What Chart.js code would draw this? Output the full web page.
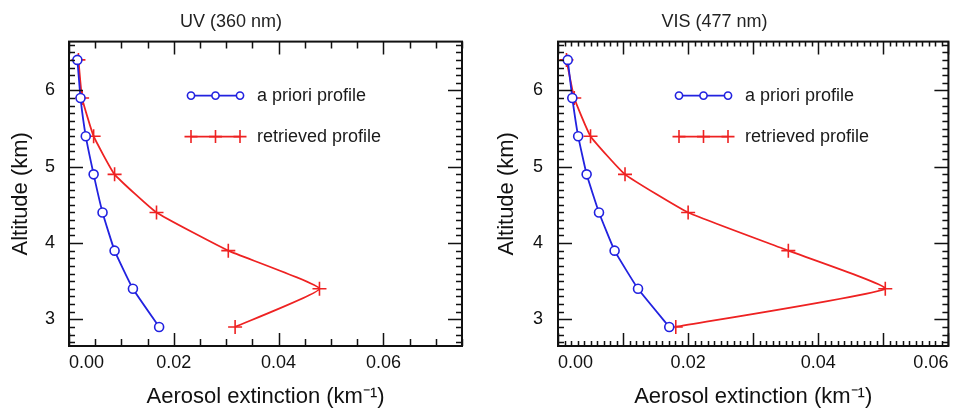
<!DOCTYPE html>
<html>
<head>
<meta charset="utf-8">
<script src="https://cdn.jsdelivr.net/npm/chart.js@4.4.1/dist/chart.umd.min.js"></script>
<style>
  body { margin: 0; background: #fff; }
  #wrap { position: relative; width: 957px; height: 411px; }
  #uvBox { position: absolute; left: 0; top: 0; width: 480px; height: 411px; }
  #visBox { position: absolute; left: 480px; top: 0; width: 477px; height: 411px; }
</style>
</head>
<body>
<div id="wrap">
  <div id="uvBox"><canvas id="uvChart" width="480" height="411"></canvas></div>
  <div id="visBox"><canvas id="visChart" width="477" height="411"></canvas></div>
</div>
<script>
// Aerosol extinction profiles (km^-1 against km)

var altitudes = [6.4, 5.9, 5.4, 4.9, 4.4, 3.9, 3.4, 2.9];

var uvApriori = [0.0016, 0.0022, 0.0032, 0.0047, 0.0064, 0.0087, 0.0122, 0.0172];
var uvRetrieved = [0.0018, 0.0025, 0.0047, 0.0087, 0.0167, 0.0304, 0.0478, 0.0317];

var visApriori = [0.0015, 0.0022, 0.0031, 0.0044, 0.0063, 0.0087, 0.0123, 0.0171];
var visRetrieved = [0.0013, 0.0025, 0.0050, 0.0103, 0.0200, 0.0354, 0.0503, 0.0181];

var seriesNames = ["a priori profile", "retrieved profile"];
var panelTitles = ["UV (360 nm)", "VIS (477 nm)"];
var xTitle = "Aerosol extinction (km\u207B\u00B9)";
var yTitle = "Altitude (km)";

var FONT = "'Liberation Sans', Arial, Helvetica, sans-serif";
var BLUE = "#2222e0";
var RED = "#ee2222";

//pair up x values with the altitudes
function toPoints(values) {
    var pts = [];
    for (var i = 0; i < values.length; i++) {
        pts.push({ x: values[i], y: altitudes[i] });
    }
    return pts;
}

//box round the plot plus inward ticks on all four sides
var frameTicks = {
    id: "frameTicks",
    afterDatasetsDraw: function (chart, args, opts) {
        var ctx = chart.ctx;
        var a = chart.chartArea;
        var xs = chart.scales.x;
        var ys = chart.scales.y;
        ctx.save();
        ctx.strokeStyle = "#111";
        ctx.lineWidth = 1.5;
        ctx.beginPath();
        var i, p, len;
        for (i = Math.ceil(xs.min / opts.xStep - 1e-6); i * opts.xStep <= xs.max + 1e-9; i++) {
            p = Math.round(xs.getPixelForValue(i * opts.xStep)) + 0.5;
            len = (i % opts.xEvery === 0) ? 13 : opts.xMinorLen;
            ctx.moveTo(p, a.bottom); ctx.lineTo(p, a.bottom - len);
            ctx.moveTo(p, a.top); ctx.lineTo(p, a.top + len);
        }
        for (i = Math.ceil(ys.min / opts.yStep - 1e-6); i * opts.yStep <= ys.max + 1e-9; i++) {
            p = Math.round(ys.getPixelForValue(i * opts.yStep)) + 0.5;
            len = (i % opts.yEvery === 0) ? 14 : 6;
            ctx.moveTo(a.left, p); ctx.lineTo(a.left + len, p);
            ctx.moveTo(a.right, p); ctx.lineTo(a.right - len, p);
        }
        ctx.stroke();
        ctx.lineWidth = 2;
        ctx.strokeRect(a.left, a.top, a.right - a.left, a.bottom - a.top);
        ctx.restore();
    }
};

//legend inside the plot: a short line with three markers, then the name
var innerLegend = {
    id: "innerLegend",
    afterDraw: function (chart, args, opts) {
        var ctx = chart.ctx;
        var a = chart.chartArea;
        var x0 = a.left + opts.dx;
        var lineLen = 49;
        ctx.save();
        chart.data.datasets.forEach(function (ds, k) {
            var y = a.top + opts.rows[k];
            ctx.strokeStyle = ds.borderColor;
            ctx.lineWidth = 1.6;
            ctx.beginPath();
            ctx.moveTo(x0, y);
            ctx.lineTo(x0 + lineLen, y);
            ctx.stroke();
            for (var m = 0; m < 3; m++) {
                var mx = x0 + m * lineLen / 2;
                ctx.beginPath();
                if (ds.pointStyle === "cross") {
                    ctx.moveTo(mx - 6.5, y); ctx.lineTo(mx + 6.5, y);
                    ctx.moveTo(mx, y - 6.5); ctx.lineTo(mx, y + 6.5);
                    ctx.stroke();
                } else {
                    ctx.arc(mx, y, 3.6, 0, Math.PI * 2);
                    ctx.fillStyle = "#fff";
                    ctx.fill();
                    ctx.stroke();
                }
            }
            ctx.fillStyle = "#1a1a1a";
            ctx.font = "18px " + FONT;
            ctx.textBaseline = "middle";
            ctx.textAlign = "left";
            ctx.fillText(ds.label, x0 + lineLen + 17, y);
        });
        ctx.restore();
    }
};

function drawPanel(canvasId, title, apriori, retrieved, xMax, xStep, xEvery, xMinorLen, yAxisWidth, yTitlePad, yLabelPad, rightPad, legendDx) {
    return new Chart(canvasId, {
        type: "line",
        data: {
            datasets: [{
                label: seriesNames[0],
                data: toPoints(apriori),
                borderColor: BLUE,
                borderWidth: 1.8,
                pointStyle: "circle",
                pointRadius: 4.5,
                pointBorderWidth: 1.6,
                pointBackgroundColor: "#fff",
                pointBorderColor: BLUE,
                tension: 0.12,
                fill: false
            }, {
                label: seriesNames[1],
                data: toPoints(retrieved),
                borderColor: RED,
                borderWidth: 1.8,
                pointStyle: "cross",
                pointRadius: 7,
                pointBorderWidth: 1.6,
                pointBorderColor: RED,
                tension: 0.12,
                fill: false
            }]
        },
        options: {
            responsive: false,
            animation: false,
            layout: { padding: { left: 0, right: rightPad, top: 0, bottom: 0 } },
            plugins: {
                legend: { display: false },
                tooltip: { enabled: false },
                title: {
                    display: true,
                    text: title,
                    color: "#222",
                    font: { family: FONT, size: 18, weight: "normal" },
                    padding: { top: 11, bottom: 9 }
                },
                frameTicks: { xStep: xStep, xEvery: xEvery, xMinorLen: xMinorLen, yStep: 0.1, yEvery: 10 },
                innerLegend: { dx: legendDx, rows: [54, 95] }
            },
            scales: {
                x: {
                    type: "linear",
                    min: 0,
                    max: xMax,
                    grid: { display: false, drawTicks: false },
                    border: { display: false },
                    afterFit: function (s) { s.height = 65; },
                    ticks: {
                        stepSize: 0.02,
                        includeBounds: true,
                        autoSkip: false,
                        align: "inner",
                        maxRotation: 0,
                        padding: 6,
                        color: "#111",
                        font: { family: FONT, size: 18 },
                        callback: function (v) {
                            var r = Math.round(v / 0.02);
                            if (Math.abs(v - r * 0.02) > 1e-9) return "";
                            return (r * 0.02).toFixed(2);
                        }
                    },
                    title: {
                        display: true,
                        text: xTitle,
                        color: "#111",
                        font: { family: FONT, size: 22 },
                        padding: { top: 0, bottom: 1 }
                    }
                },
                y: {
                    type: "linear",
                    min: 2.65,
                    max: 6.64,
                    grid: { display: false, drawTicks: false },
                    border: { display: false },
                    afterFit: function (s) { s.width = yAxisWidth; },
                    ticks: {
                        stepSize: 1,
                        includeBounds: false,
                        padding: yLabelPad,
                        color: "#111",
                        font: { family: FONT, size: 18 }
                    },
                    title: {
                        display: true,
                        text: yTitle,
                        color: "#111",
                        font: { family: FONT, size: 22 },
                        padding: { top: yTitlePad, bottom: 0 }
                    }
                }
            }
        },
        plugins: [frameTicks, innerLegend]
    });
}

var uvChart = drawPanel("uvChart", panelTitles[0], uvApriori, uvRetrieved, 0.075, 0.005, 4, 7, 69, 8, 14, 18, 122);
var visChart = drawPanel("visChart", panelTitles[1], visApriori, visRetrieved, 0.06, 0.001, 10, 5, 78, 14, 15, 8, 121);
</script>
</body>
</html>
